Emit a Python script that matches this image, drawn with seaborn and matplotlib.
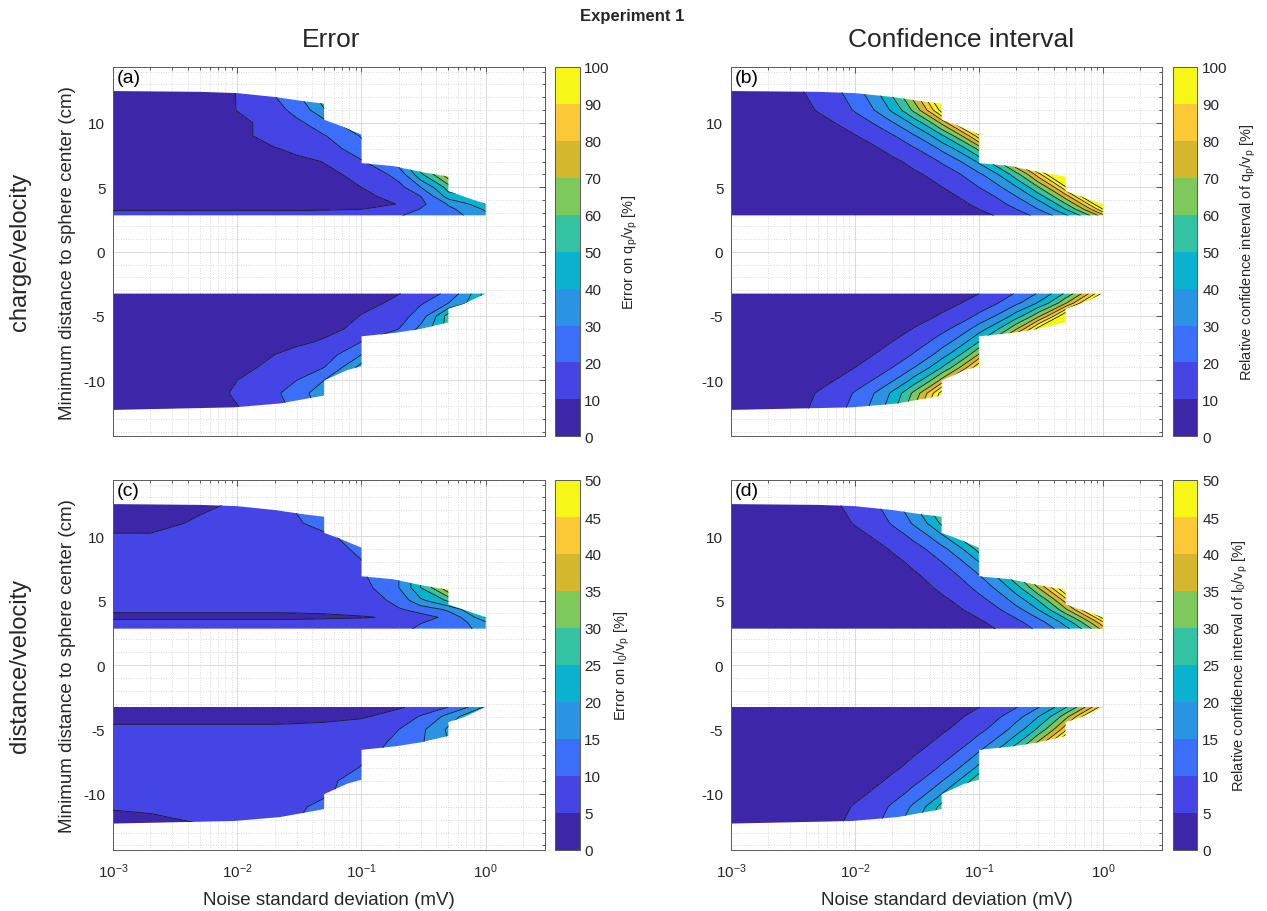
import numpy as np
import matplotlib
matplotlib.use("Agg")
import matplotlib.pyplot as plt
import seaborn as sns
from matplotlib.colors import ListedColormap, BoundaryNorm
from matplotlib.patches import Polygon
from matplotlib.ticker import LogLocator, MultipleLocator, NullFormatter

sns.set_theme(style="white")
plt.rcParams["font.family"] = ["Liberation Sans", "DejaVu Sans"]
plt.rcParams["mathtext.fontset"] = "custom"
plt.rcParams["mathtext.rm"] = "Liberation Sans"
plt.rcParams["mathtext.it"] = "Liberation Sans:italic"
plt.rcParams["mathtext.bf"] = "Liberation Sans:bold"
plt.rcParams["axes.unicode_minus"] = False

# grid of the simulations
noise = [0.001, 0.002, 0.005, 0.01, 0.02, 0.03, 0.05, 0.1, 0.2, 0.3, 0.5, 1.0]
dist_up = [2.8, 3.3, 3.7, 4.3, 5.0, 6.0, 7.0, 8.0, 9.0, 10.0, 11.0, 12.5]
dist_low = [-12.3, -11.0, -10.0, -9.0, -8.0, -7.0, -6.0, -5.0, -4.0, -3.26]

# region where the fit converged (outline of the filled area)
edge_up_noise = [0.001, 1.0, 1.0, 0.5, 0.5, 0.3, 0.18, 0.1, 0.1, 0.065, 0.05,
                 0.05, 0.035, 0.02, 0.01, 0.005, 0.001]
edge_up_dist = [2.82, 2.82, 3.7, 4.7, 5.83, 6.2, 6.65, 6.88, 9.1, 9.85, 10.25,
                11.5, 11.68, 12.02, 12.32, 12.42, 12.48]
edge_low_noise = [0.001, 1.0, 0.67, 0.5, 0.5, 0.3, 0.19, 0.1, 0.1, 0.077, 0.05,
                  0.05, 0.022, 0.0094, 0.001]
edge_low_dist = [-3.26, -3.26, -4.04, -4.43, -5.5, -6.0, -6.3, -6.58, -8.9, -9.2,
                 -10.02, -11.18, -11.8, -12.1, -12.3]

# (a) error on q_p/v_p [%], rows follow dist_up / dist_low, columns follow noise
err_q_up = [
    [13.5, 13.5, 13.5, 13.5, 13.5, 13.5, 14, 16, 19.5, 23, 27, 36],
    [9, 9, 9, 9, 9, 9, 9.3, 9.9, 15, 20.5, 28, 42],
    [7, 7, 7, 7, 7, 7, 7.5, 8.5, 10.2, 18, 31, 50],
    [5.5, 5.5, 5.5, 5.5, 5.5, 6, 7, 8.5, 13, 20, 45, 55],
    [4, 4, 4.5, 5, 5.5, 6, 7, 10, 17, 30, 55, 70],
    [3, 3, 3.5, 4, 5, 6, 8, 13, 24, 48, 78, 100],
    [3, 3, 3.5, 4, 6, 8, 10.3, 19, 35, 60, 95, 120],
    [3, 3, 3.5, 5, 9.5, 12, 16, 26, 45, 70, 110, 140],
    [3, 3, 4, 8, 14, 17, 19.5, 31, 55, 80, 120, 150],
    [3, 3.5, 5, 8, 14, 18, 26, 40, 65, 90, 130, 150],
    [3.5, 4, 6, 10.2, 17, 23, 39, 55, 80, 100, 140, 150],
    [4, 4.5, 6, 10.3, 21, 30, 50, 65, 90, 110, 150, 150],
]
err_q_low = [
    [4, 4, 5, 9.5, 17, 22, 34, 50, 70, 90, 120, 150],
    [4, 4, 7.5, 11, 18.5, 25, 38, 50, 70, 90, 120, 150],
    [3, 3.5, 6, 10, 16, 20, 30, 45, 65, 85, 110, 150],
    [3, 3, 5, 8, 12.5, 15.5, 20, 45, 65, 85, 110, 150],
    [3, 3, 4, 6, 10, 12.5, 16, 30, 50, 70, 100, 150],
    [3, 3, 3.5, 5, 7, 8.5, 11, 20, 35, 55, 80, 120],
    [3, 3, 3, 3.5, 5, 6, 7.5, 13, 20, 33, 55, 70],
    [3, 3, 3, 3, 3.5, 4, 5, 10.5, 16, 25, 55, 65],
    [3, 3, 3, 3, 3, 3.5, 4.5, 7, 13, 19, 30, 55],
    [3, 3, 3, 3, 3, 3, 4, 6, 9.7, 14, 23, 55],
]

# (b) relative confidence interval of q_p/v_p [%]
ci_q_up = [
    [0.076, 0.15, 0.38, 0.76, 1.5, 2.3, 3.8, 7.6, 15, 23, 38, 76],
    [0.1, 0.2, 0.5, 1, 2, 3, 5, 10, 20, 30, 50, 100],
    [0.12, 0.24, 0.59, 1.2, 2.4, 3.5, 5.9, 12, 24, 35, 59, 118],
    [0.15, 0.3, 0.75, 1.5, 3, 4.5, 7.5, 15, 30, 45, 75, 150],
    [0.2, 0.39, 0.98, 2, 3.9, 5.9, 9.8, 20, 39, 59, 98, 150],
    [0.28, 0.56, 1.4, 2.8, 5.6, 8.5, 14, 28, 56, 85, 141, 150],
    [0.42, 0.83, 2.1, 4.2, 8.3, 12.5, 21, 42, 83, 125, 150, 150],
    [0.63, 1.3, 3.2, 6.3, 12.6, 19, 32, 63, 126, 150, 150, 150],
    [0.96, 1.9, 4.8, 9.6, 19, 29, 48, 96, 150, 150, 150, 150],
    [1.4, 2.9, 7.2, 14.5, 29, 43, 72, 145, 150, 150, 150, 150],
    [2.1, 4.2, 10.5, 21, 42, 63, 105, 150, 150, 150, 150, 150],
    [2.6, 5.3, 13, 26, 53, 79, 132, 150, 150, 150, 150, 150],
]
ci_q_low = [
    [2.4, 4.7, 12, 24, 47, 71, 118, 150, 150, 150, 150, 150],
    [2.1, 4.2, 10.5, 21, 42, 63, 105, 150, 150, 150, 150, 150],
    [1.5, 2.9, 7.3, 14.6, 29, 44, 73, 146, 150, 150, 150, 150],
    [1, 2, 5, 10, 20, 30, 50, 100, 150, 150, 150, 150],
    [0.71, 1.4, 3.5, 7.1, 14, 21, 35, 71, 142, 150, 150, 150],
    [0.5, 1, 2.5, 5, 10, 15, 25, 50, 100, 150, 150, 150],
    [0.35, 0.69, 1.7, 3.5, 6.9, 10.4, 17, 35, 69, 104, 150, 150],
    [0.22, 0.45, 1.1, 2.2, 4.5, 6.7, 11, 22, 45, 67, 112, 150],
    [0.14, 0.28, 0.69, 1.4, 2.8, 4.1, 6.9, 14, 28, 41, 69, 138],
    [0.1, 0.21, 0.52, 1, 2.1, 3.1, 5.2, 10, 21, 31, 52, 104],
]

# (c) error on l_0/v_p [%]
err_l_up = [
    [7, 7, 7, 7, 7, 7, 7.5, 8.5, 9, 10.8, 13, 16.6],
    [6.5, 6.5, 6.5, 6.5, 6.5, 6.5, 7, 7.5, 9, 9.8, 12, 19],
    [4, 4, 4, 4, 4, 4, 4.2, 4.6, 6, 8, 11.5, 25],
    [5.7, 5.7, 5.7, 5.7, 5.7, 5.8, 6, 7, 9.5, 12, 16, 30],
    [6, 6, 6, 6, 6, 6, 6.3, 7, 12, 19, 26, 35],
    [6, 6, 6, 6, 6, 6.5, 7.5, 8.5, 15, 25, 40, 50],
    [6, 6, 6, 6, 6.5, 7, 8, 9.5, 15, 25, 40, 50],
    [6, 6, 6, 6, 6.5, 7, 8, 9.8, 15, 25, 40, 50],
    [6, 6, 6, 6, 7, 7.5, 8.5, 11, 16, 25, 40, 50],
    [5.3, 5.2, 5.5, 6, 7, 8, 9, 13, 17, 25, 40, 50],
    [4, 4.3, 5.5, 6.5, 8, 9.5, 12, 15, 20, 28, 40, 50],
    [3.5, 3.8, 4.3, 5.5, 8, 10.5, 13, 16, 20, 28, 40, 50],
]
err_l_low = [
    [3, 3.5, 5, 6.5, 8.5, 10, 12, 13, 15, 18, 22, 28],
    [5.5, 6, 7, 7.5, 8.5, 9.5, 11, 12, 14, 17, 22, 28],
    [7, 7, 7, 7, 7.5, 8, 9.5, 12, 14, 17, 22, 28],
    [7, 7, 7, 7, 7.5, 8, 9, 12.5, 14, 17, 22, 28],
    [7, 7, 7, 7, 7, 7, 8, 10.3, 13, 17, 22, 28],
    [7, 7, 7, 7, 7, 7, 7.5, 9, 12, 16, 20, 28],
    [6.5, 6.5, 6.5, 6.5, 6.5, 6.5, 7, 8.5, 11, 14.5, 20, 28],
    [6, 6, 6, 6, 6, 6, 6, 7, 10, 14, 21, 30],
    [3.5, 3.5, 3.5, 3.5, 3.5, 3.8, 4.2, 4.6, 7, 10.5, 17, 30],
    [3, 3, 3, 3, 3, 3.5, 4, 4.5, 4.5, 6.5, 10, 21],
]

# (d) relative confidence interval of l_0/v_p [%]
ci_l_up = [
    [0.037, 0.074, 0.19, 0.37, 0.74, 1.1, 1.9, 3.7, 7.4, 11, 18.5, 37],
    [0.044, 0.088, 0.22, 0.44, 0.88, 1.3, 2.2, 4.4, 8.8, 13, 22, 44],
    [0.052, 0.1, 0.26, 0.52, 1, 1.6, 2.6, 5.2, 10.4, 15.6, 26, 52],
    [0.067, 0.13, 0.34, 0.67, 1.3, 2, 3.4, 6.7, 13.4, 20, 34, 67],
    [0.084, 0.17, 0.42, 0.84, 1.7, 2.5, 4.2, 8.4, 17, 25, 42, 75],
    [0.12, 0.23, 0.58, 1.2, 2.3, 3.5, 5.8, 11.5, 23, 35, 58, 75],
    [0.15, 0.3, 0.75, 1.5, 3, 4.5, 7.5, 15, 30, 45, 75, 75],
    [0.2, 0.4, 1, 2, 4, 6, 10, 20, 40, 60, 75, 75],
    [0.27, 0.54, 1.4, 2.7, 5.4, 8.1, 13.5, 27, 54, 75, 75, 75],
    [0.38, 0.76, 1.9, 3.8, 7.6, 11.4, 19, 38, 75, 75, 75, 75],
    [0.53, 1.05, 2.6, 5.3, 10.5, 15.8, 26, 52, 75, 75, 75, 75],
    [0.66, 1.3, 3.3, 6.6, 13, 20, 33, 66, 75, 75, 75, 75],
]
ci_l_low = [
    [0.63, 1.3, 3.2, 6.3, 12.6, 18.9, 31.5, 63, 75, 75, 75, 75],
    [0.54, 1.1, 2.7, 5.4, 10.8, 16.2, 27, 54, 75, 75, 75, 75],
    [0.4, 0.8, 2, 4, 8, 12, 20, 40, 75, 75, 75, 75],
    [0.3, 0.59, 1.5, 3, 5.9, 8.9, 14.8, 29.5, 59, 75, 75, 75],
    [0.22, 0.43, 1.1, 2.2, 4.3, 6.5, 10.9, 21.7, 43.4, 65, 75, 75],
    [0.16, 0.32, 0.81, 1.6, 3.2, 4.9, 8.1, 16.2, 32.4, 48.6, 75, 75],
    [0.12, 0.24, 0.6, 1.2, 2.4, 3.6, 6, 11.9, 23.8, 35.7, 59.5, 75],
    [0.087, 0.17, 0.44, 0.87, 1.7, 2.6, 4.4, 8.7, 17.4, 26.1, 43.5, 75],
    [0.066, 0.13, 0.33, 0.66, 1.3, 2, 3.3, 6.6, 13.2, 19.8, 33, 66],
    [0.049, 0.097, 0.24, 0.49, 0.97, 1.5, 2.4, 4.9, 9.7, 14.6, 24.3, 48.5],
]

parula10 = ["#3D26A8", "#4544E4", "#3B6EF9", "#2A93E3", "#0BB2CF",
            "#33C2A2", "#7DC95C", "#D5B72E", "#FBC935", "#F6F717"]
cmap = ListedColormap(sns.color_palette(parula10))
cmap.set_over(parula10[-1])

W, H = 1267, 912
fig = plt.figure(figsize=(W / 100, H / 100), dpi=100)


def fx(px):
    return px / W


def fy(px):
    return 1 - px / H


def draw_panel(rect, crect, z_up, z_low, vmax, letter, cb_label, bottom_row, left_col):
    ax = fig.add_axes(rect)
    cax = fig.add_axes(crect)
    levels = np.linspace(0, vmax, 11)
    norm = BoundaryNorm(levels, ncolors=10)
    ax.set_xscale("log")
    for dist, z, en, ed in [(dist_up, z_up, edge_up_noise, edge_up_dist),
                            (dist_low, z_low, edge_low_noise, edge_low_dist)]:
        clip = Polygon(np.column_stack([en, ed]), closed=True, facecolor="none",
                       edgecolor="none", transform=ax.transData)
        ax.add_patch(clip)
        zz = np.array(z, dtype=float)
        cf = ax.contourf(noise, dist, zz, levels=levels, cmap=cmap, norm=norm,
                         extend="max", zorder=2)
        cl = ax.contour(noise, dist, zz, levels=levels[1:], colors="k",
                        linewidths=0.6, zorder=3)
        cf.set_clip_path(clip)
        cl.set_clip_path(clip)

    ax.set_xlim(1e-3, 3)
    ax.set_ylim(-14.35, 14.35)
    ax.set_yticks([-10, -5, 0, 5, 10])
    ax.yaxis.set_minor_locator(MultipleLocator(1))
    ax.xaxis.set_major_locator(LogLocator(base=10, numticks=12))
    ax.xaxis.set_minor_locator(LogLocator(base=10, subs=np.arange(2, 10), numticks=40))
    ax.xaxis.set_minor_formatter(NullFormatter())
    ax.grid(True, which="major", color="#dadada", linewidth=0.7)
    ax.grid(True, which="minor", color="#cfcfcf", linestyle=(0, (1, 2)), linewidth=0.6)
    ax.set_axisbelow(True)
    ax.tick_params(which="both", direction="in", top=True, right=True,
                   color="#404040", width=0.6, labelsize=11, labelcolor="#262626")
    ax.tick_params(which="major", length=4)
    ax.tick_params(which="minor", length=2)
    ax.tick_params(axis="x", which="major", pad=8)
    ax.tick_params(axis="y", which="major", pad=5.5)
    for s in ax.spines.values():
        s.set_color("#5a5a5a")
        s.set_linewidth(0.7)
    if not bottom_row:
        ax.set_xticklabels([])
    else:
        ax.set_xlabel("Noise standard deviation (mV)", fontsize=13.5, color="#262626")
        ax.xaxis.set_label_coords(0.5, -0.112)
    if left_col:
        ax.set_ylabel("Minimum distance to sphere center (cm)", fontsize=13.5,
                      color="#262626")
        ax.yaxis.set_label_coords(-0.085, 0.5)
    ax.text(0.008, 0.995, letter, transform=ax.transAxes, ha="left", va="top",
            fontsize=14, color="black", zorder=5)

    sm = matplotlib.cm.ScalarMappable(norm=norm, cmap=cmap)
    cb = fig.colorbar(sm, cax=cax, ticks=levels)
    cb.ax.set_yticklabels([f"{v:g}" for v in levels])
    cb.outline.set_edgecolor("#5a5a5a")
    cb.outline.set_linewidth(0.7)
    cax.tick_params(direction="in", length=3, width=0.6, color="#404040",
                    labelsize=11, labelcolor="#262626")
    cb.set_label(cb_label, fontsize=10.5, color="#262626", labelpad=8)
    return ax


top = dict(y0=68, y1=437.3)
bot = dict(y0=481, y1=851)
left = dict(x0=113, x1=545, c0=555, c1=579.5)
right = dict(x0=731, x1=1162, c0=1172.7, c1=1197.3)


def rects(col, row):
    ax_r = [fx(col["x0"]), fy(row["y1"]), fx(col["x1"] - col["x0"]),
            (row["y1"] - row["y0"]) / H]
    c_r = [fx(col["c0"]), fy(row["y1"]), fx(col["c1"] - col["c0"]),
           (row["y1"] - row["y0"]) / H]
    return ax_r, c_r


r, c = rects(left, top)
draw_panel(r, c, err_q_up, err_q_low, 100, "(a)",
           r"Error on q$_\mathrm{p}$/v$_\mathrm{p}$ [%]", False, True)
r, c = rects(right, top)
draw_panel(r, c, ci_q_up, ci_q_low, 100, "(b)",
           r"Relative confidence interval of q$_\mathrm{p}$/v$_\mathrm{p}$ [%]", False, False)
r, c = rects(left, bot)
draw_panel(r, c, err_l_up, err_l_low, 50, "(c)",
           r"Error on l$_\mathrm{0}$/v$_\mathrm{p}$ [%]", True, True)
r, c = rects(right, bot)
draw_panel(r, c, ci_l_up, ci_l_low, 50, "(d)",
           r"Relative confidence interval of l$_\mathrm{0}$/v$_\mathrm{p}$ [%]", True, False)

fig.text(fx(632), fy(17), "Experiment 1", ha="center", va="center",
         fontsize=12, fontweight="bold")
fig.text(fx(331), fy(40), "Error", ha="center", va="center", fontsize=19)
fig.text(fx(961), fy(40), "Confidence interval", ha="center", va="center", fontsize=19)
fig.text(fx(20), fy(252), "charge/velocity", ha="center", va="center",
         rotation=90, fontsize=17)
fig.text(fx(20), fy(666), "distance/velocity", ha="center", va="center",
         rotation=90, fontsize=17)

fig.savefig("out.png", dpi=100)
